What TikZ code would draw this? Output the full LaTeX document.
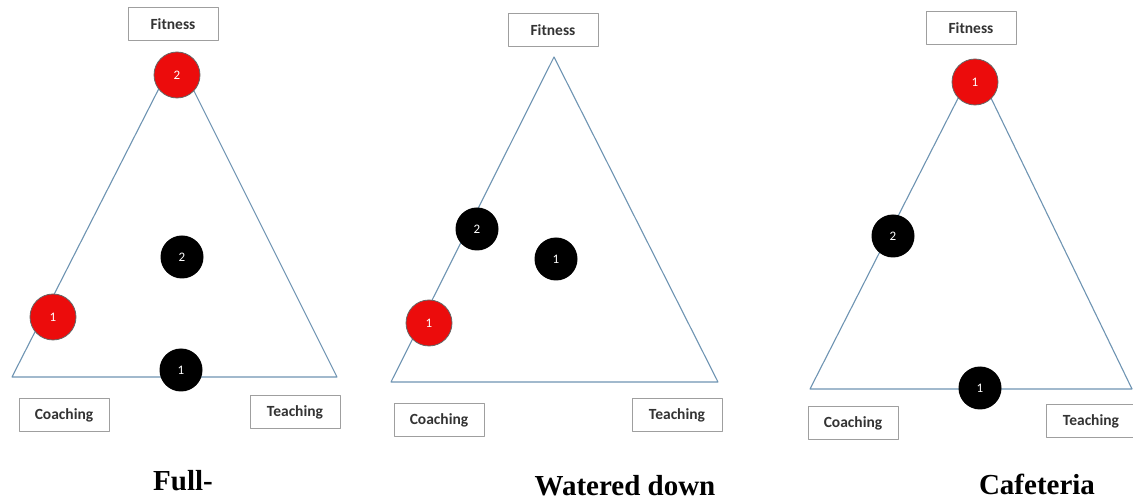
\documentclass[tikz,border=0pt]{standalone}
\usepackage{fontspec}
\setmainfont{Liberation Serif}
\newfontfamily\boxfont{Carlito}
\definecolor{edgeblue}{RGB}{110,148,178}
\definecolor{dotred}{RGB}{236,12,12}
\begin{document}
\begin{tikzpicture}[x=1pt,y=1pt,line join=round,line cap=round,
	tag/.style={draw=gray!75,line width=0.9pt,fill=white,minimum width=90pt,minimum height=33pt,inner sep=1pt,
		font=\boxfont\bfseries\fontsize{15.5}{15.5}\selectfont,text=black!80},
	reddot/.style={circle,draw=black!60,line width=0.8pt,fill=dotred,minimum size=46pt,inner sep=0pt,
		text=white,font=\boxfont\fontsize{13}{13}\selectfont},
	blackdot/.style={circle,fill=black,minimum size=43pt,inner sep=0pt,
		text=white,font=\boxfont\fontsize{13}{13}\selectfont},
	caption/.style={font=\bfseries\fontsize{29}{29}\selectfont}]
	\useasboundingbox (0,0) rectangle (1133,501);
	\path
	(12,124) coordinate (A1)
	(337,124) coordinate (B1)
	(176,446) coordinate (S1)
	(391,119) coordinate (A2)
	(718,119) coordinate (B2)
	(554,444) coordinate (S2)
	(810,112) coordinate (A3)
	(1132,112) coordinate (B3)
	(975,436) coordinate (S3)
	;
	\draw[edgeblue,line width=1.1pt] (A1)--(B1)--(S1)--cycle;
	\draw[edgeblue,line width=1.1pt] (A2)--(B2)--(S2)--cycle;
	\draw[edgeblue,line width=1.1pt] (A3)--(B3)--(S3)--cycle;
	% Full-
	\node[tag] (fit1) at (173,477) {Fitness};
	\node[tag] (coach1) at (64,86) {Coaching};
	\node[tag] (teach1) at (295,89) {Teaching};
	\node[reddot] (r21) at (177,426) {2};
	\node[blackdot] (b21) at (182,244) {2};
	\node[reddot] (r11) at (53,184) {1};
	\node[blackdot] (b11) at (181,131) {1};
	\node[caption] (cap1) at (183,20) {Full-};
	% Watered down
	\node[tag] (fit2) at (553,471) {Fitness};
	\node[tag] (coach2) at (439,81) {Coaching};
	\node[tag] (teach2) at (677,86) {Teaching};
	\node[blackdot] (b22) at (477,272) {2};
	\node[blackdot] (b12) at (556,242) {1};
	\node[reddot] (r12) at (429,178) {1};
	\node[caption] (cap2) at (625,15) {Watered down};
	% Cafeteria
	\node[tag] (fit3) at (971,473) {Fitness};
	\node[tag] (coach3) at (853,78) {Coaching};
	\node[tag] (teach3) at (1091,80) {Teaching};
	\node[reddot] (r13) at (975,419) {1};
	\node[blackdot] (b23) at (893,265) {2};
	\node[blackdot] (b13) at (980,113) {1};
	\node[caption] (cap3) at (1037,17) {Cafeteria};
\end{tikzpicture}
\end{document}
